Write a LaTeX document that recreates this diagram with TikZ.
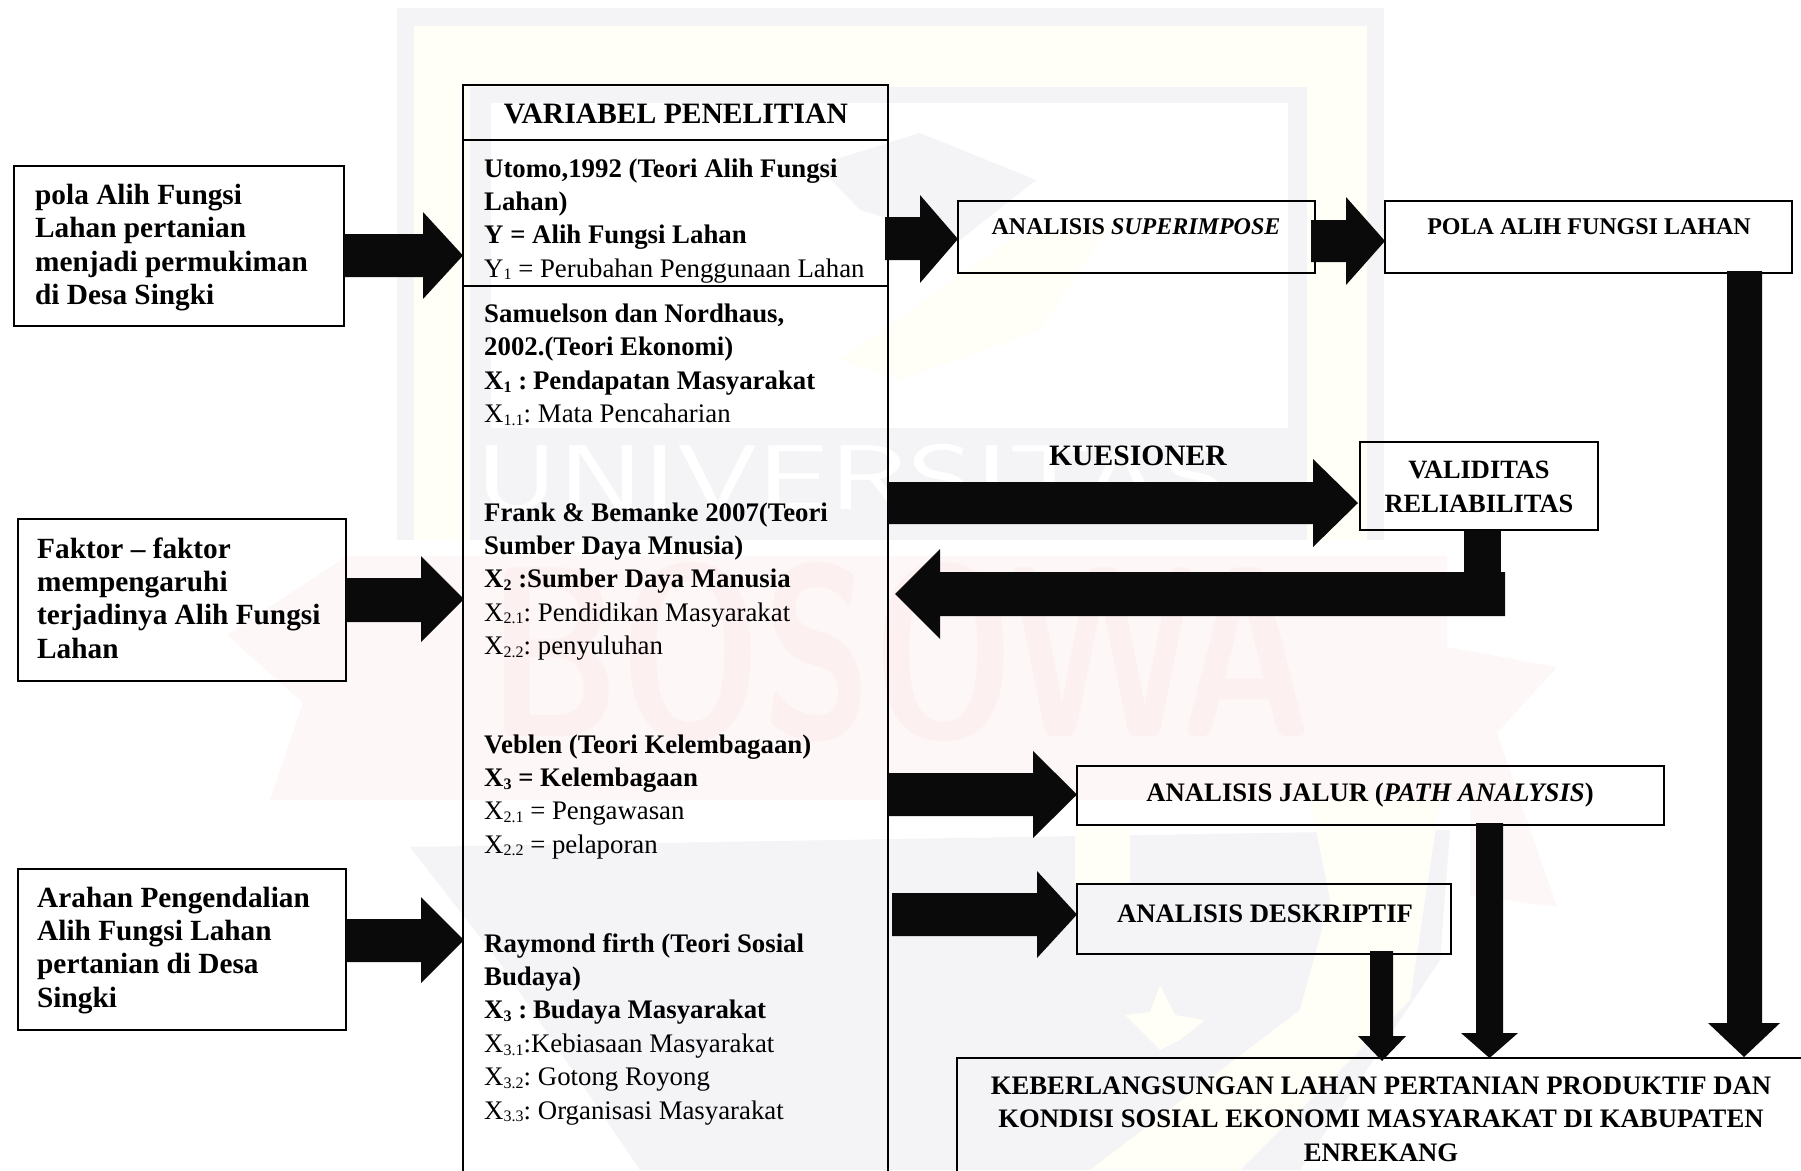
\documentclass[tikz,border=0pt]{standalone}
\usepackage{fontspec}
\usepackage{graphicx}
\setmainfont{Liberation Serif}
\newcommand{\bodyfs}{\fontsize{26.8}{33.4}\selectfont}
\newcommand{\leftfs}{\fontsize{29.3}{33.4}\selectfont}
\newcommand{\smallfs}{\fontsize{24}{33.4}\selectfont}
\newcommand{\labelfs}{\fontsize{26.7}{33.4}\selectfont}
\newcommand{\headfs}{\fontsize{29.6}{33.4}\selectfont}
\newcommand{\midfs}{\fontsize{26.4}{33.4}\selectfont}
\newcommand{\sbt}[1]{\raisebox{-0.22ex}{\fontsize{16}{16}\selectfont #1}}
\definecolor{wmgray}{HTML}{F4F4F7}
\definecolor{wmcream}{HTML}{FFFEF7}
\definecolor{wmpink}{HTML}{FEF7F7}
\definecolor{wmred}{HTML}{FDF0F0}
\definecolor{inkblack}{HTML}{0A0A0A}
\tikzset{
  box/.style={draw=black,line width=1.6pt},
  blk/.style={inner sep=0pt,align=left,anchor=north west,font=\bodyfs},
  lft/.style={inner sep=0pt,align=left,anchor=north west,font=\leftfs\bfseries},
  ctr/.style={inner sep=0pt,align=center,anchor=center},
  arrowfill/.style={fill=inkblack,draw=none},
}
\newcommand{\rarrow}[7]{% x0, xbase, xtip, yshaft1, yshaft2, yhead1, yhead2
  \fill[arrowfill] (#1,#4)--(#2,#4)--(#2,#6)--(#3,{(#6+#7)/2})--(#2,#7)--(#2,#5)--(#1,#5)--cycle;}
\newcommand{\darrow}[7]{% y0, ybase, ytip, xshaft1, xshaft2, xhead1, xhead2
  \fill[arrowfill] (#4,#1)--(#4,#2)--(#6,#2)--({(#6+#7)/2},#3)--(#7,#2)--(#5,#2)--(#5,#1)--cycle;}
\begin{document}
\begin{tikzpicture}[x=1pt,y=-1pt]
\useasboundingbox (0,0) rectangle (1801,1170);
% faint watermark behind the diagram
\fill[white] (0,0) rectangle (1801,1170);
\fill[wmgray] (397,8) rectangle (1384,540);
\fill[wmcream] (414,26) rectangle (1367,540);
\fill[wmgray] (470,87) rectangle (1307,540);
\fill[white] (491,103) rectangle (1288,428);
\fill[wmgray] (817,165)--(920,133)--(1036,180)--(960,240)--(860,210)--cycle;
\fill[wmcream] (840,360)--(1010,240)--(1110,225)--(1040,330)--(900,380)--cycle;
\node[ctr,font=\fontsize{92}{92}\sffamily\selectfont,text=white] (wm1) at (852,478) {\scalebox{1.4}[1]{UNIVERSITAS}};
\fill[white] (397,540) rectangle (1384,556);
\fill[wmpink] (347,556)--(1447,556)--(1447,647)--(1557,667)--(1497,733)--(1520,800)--(1557,907)--(1470,895)--(1470,800)--(270,800)--(303,703)--(227,635)--cycle;
\node[ctr,font=\fontsize{243}{243}\sffamily\bfseries\selectfont,text=wmred] (wm2) at (900,652) {\scalebox{0.74}[1]{BOSOWA}};
\fill[wmgray] (410,847)--(1450,830)--(1440,960)--(1300,1170)--(640,1170)--(500,963)--cycle;
\fill[wmcream] (1310,800)--(1440,800)--(1410,1000)--(1240,1170)--(1090,1170)--(1300,1010)--(1330,900)--cycle;
\fill[wmcream] (1160,985)--(1175,1015)--(1205,1020)--(1180,1040)--(1160,1050)--(1140,1030)--(1125,1015)--(1150,1012)--cycle;
\fill[wmcream] (1075,826)--(1130,826)--(1130,884)--(1075,884)--cycle;

% boxes
\draw[box] (463,85) rectangle (888,1185);
\draw[box] (463,140) -- (888,140);
\draw[box] (463,286) -- (888,286);
\draw[box] (14,166) rectangle (344,326);
\draw[box] (18,519) rectangle (346,681);
\draw[box] (18,869) rectangle (346,1030);
\draw[box] (958,201) rectangle (1315,273);
\draw[box] (1385,201) rectangle (1792,273);
\draw[box] (1360,442) rectangle (1598,530);
\draw[box] (1077,766) rectangle (1664,825);
\draw[box] (1077,884) rectangle (1451,954);
\draw[box] (957,1058) rectangle (1830,1200);

% arrows
\rarrow{344}{423}{463}{234}{277}{212}{299}
\rarrow{346}{421}{464}{578}{622}{556}{642}
\rarrow{346}{421}{464}{919}{962}{897}{983}
\rarrow{885}{920}{958}{217}{260}{195}{283}
\rarrow{1311}{1346}{1385}{220}{262}{197}{285}
\rarrow{888}{1313}{1358}{482}{524}{459}{547}
\rarrow{888}{1033}{1077}{773}{816}{751}{838}
\rarrow{892}{1037}{1077}{893}{936}{871}{958}
\rarrow{1505}{940}{895}{572}{616}{549}{639}
\fill[arrowfill] (1464,530) rectangle (1501,573);
\darrow{951}{1036}{1061}{1370}{1393}{1358}{1406}
\darrow{823}{1033}{1058}{1476}{1503}{1461}{1518}
\darrow{271}{1023}{1057}{1727}{1762}{1708}{1780}

% text
\node[ctr,font=\headfs\bfseries] (head) at (676,114) {VARIABEL PENELITIAN};
\node[blk] (t1) at (484,153.5) {\strut\textbf{Utomo,1992 (Teori Alih Fungsi}\\\strut\textbf{Lahan)}\\\strut\textbf{Y = Alih Fungsi Lahan}\\\strut Y\sbt{1} = Perubahan Penggunaan Lahan};
\node[blk] (t2) at (484,299) {\strut\textbf{Samuelson dan Nordhaus,}\\\strut\textbf{2002.(Teori Ekonomi)}\\\strut\textbf{X\sbt{1} :\kern-3pt{} Pendapatan Masyarakat}\\\strut X\sbt{1.1}:\kern-2pt{} Mata Pencaharian};
\node[blk] (t3) at (484,497.5) {\strut\textbf{Frank \& Bemanke 2007(Teori}\\\strut\textbf{Sumber Daya Mnusia)}\\\strut\textbf{X\sbt{2} :Sumber Daya Manusia}\\\strut X\sbt{2.1}:\kern-2pt{} Pendidikan Masyarakat\\\strut X\sbt{2.2}:\kern-2pt{} penyuluhan};
\node[blk] (t4) at (484,729.5) {\strut\textbf{Veblen (Teori Kelembagaan)}\\\strut\textbf{X\sbt{3} = Kelembagaan}\\\strut X\sbt{2.1} = Pengawasan\\\strut X\sbt{2.2} = pelaporan};
\node[blk] (t5) at (484,928.5) {\strut\textbf{Raymond firth (Teori Sosial}\\\strut\textbf{Budaya)}\\\strut\textbf{X\sbt{3} :\kern-3pt{} Budaya Masyarakat}\\\strut X\sbt{3.1}:Kebiasaan Masyarakat\\\strut X\sbt{3.2}:\kern-2pt{} Gotong Royong\\\strut X\sbt{3.3}:\kern-2pt{} Organisasi Masyarakat};
\node[lft] (l1) at (35,181) {\strut pola Alih Fungsi\\\strut Lahan pertanian\\\strut menjadi permukiman\\\strut di Desa Singki};
\node[lft] (l2) at (37,534.5) {\strut Faktor – faktor\\\strut mempengaruhi\\\strut terjadinya Alih Fungsi\\\strut Lahan};
\node[lft] (l3) at (37,883.5) {\strut Arahan Pengendalian\\\strut Alih Fungsi Lahan\\\strut pertanian di Desa\\\strut Singki};
\node[ctr,font=\smallfs\bfseries] (s1) at (1136,227) {ANALISIS \textit{SUPERIMPOSE}};
\node[ctr,font=\smallfs\bfseries] (s2) at (1589,227) {POLA ALIH FUNGSI LAHAN};
\node[ctr,font=\headfs\bfseries] (k) at (1138,456) {KUESIONER};
\node[ctr,font=\midfs\bfseries] (v) at (1479,487) {VALIDITAS\\RELIABILITAS};
\node[ctr,font=\labelfs\bfseries] (p) at (1370,795.5) {ANALISIS JALUR (\textit{PATH ANALYSIS})};
\node[ctr,font=\labelfs\bfseries] (d) at (1265,914) {ANALISIS DESKRIPTIF};
\node[ctr,font=\labelfs\bfseries] (f) at (1381,1119) {KEBERLANGSUNGAN LAHAN PERTANIAN PRODUKTIF DAN\\KONDISI SOSIAL EKONOMI MASYARAKAT DI KABUPATEN\\ENREKANG};
\end{tikzpicture}
\end{document}
